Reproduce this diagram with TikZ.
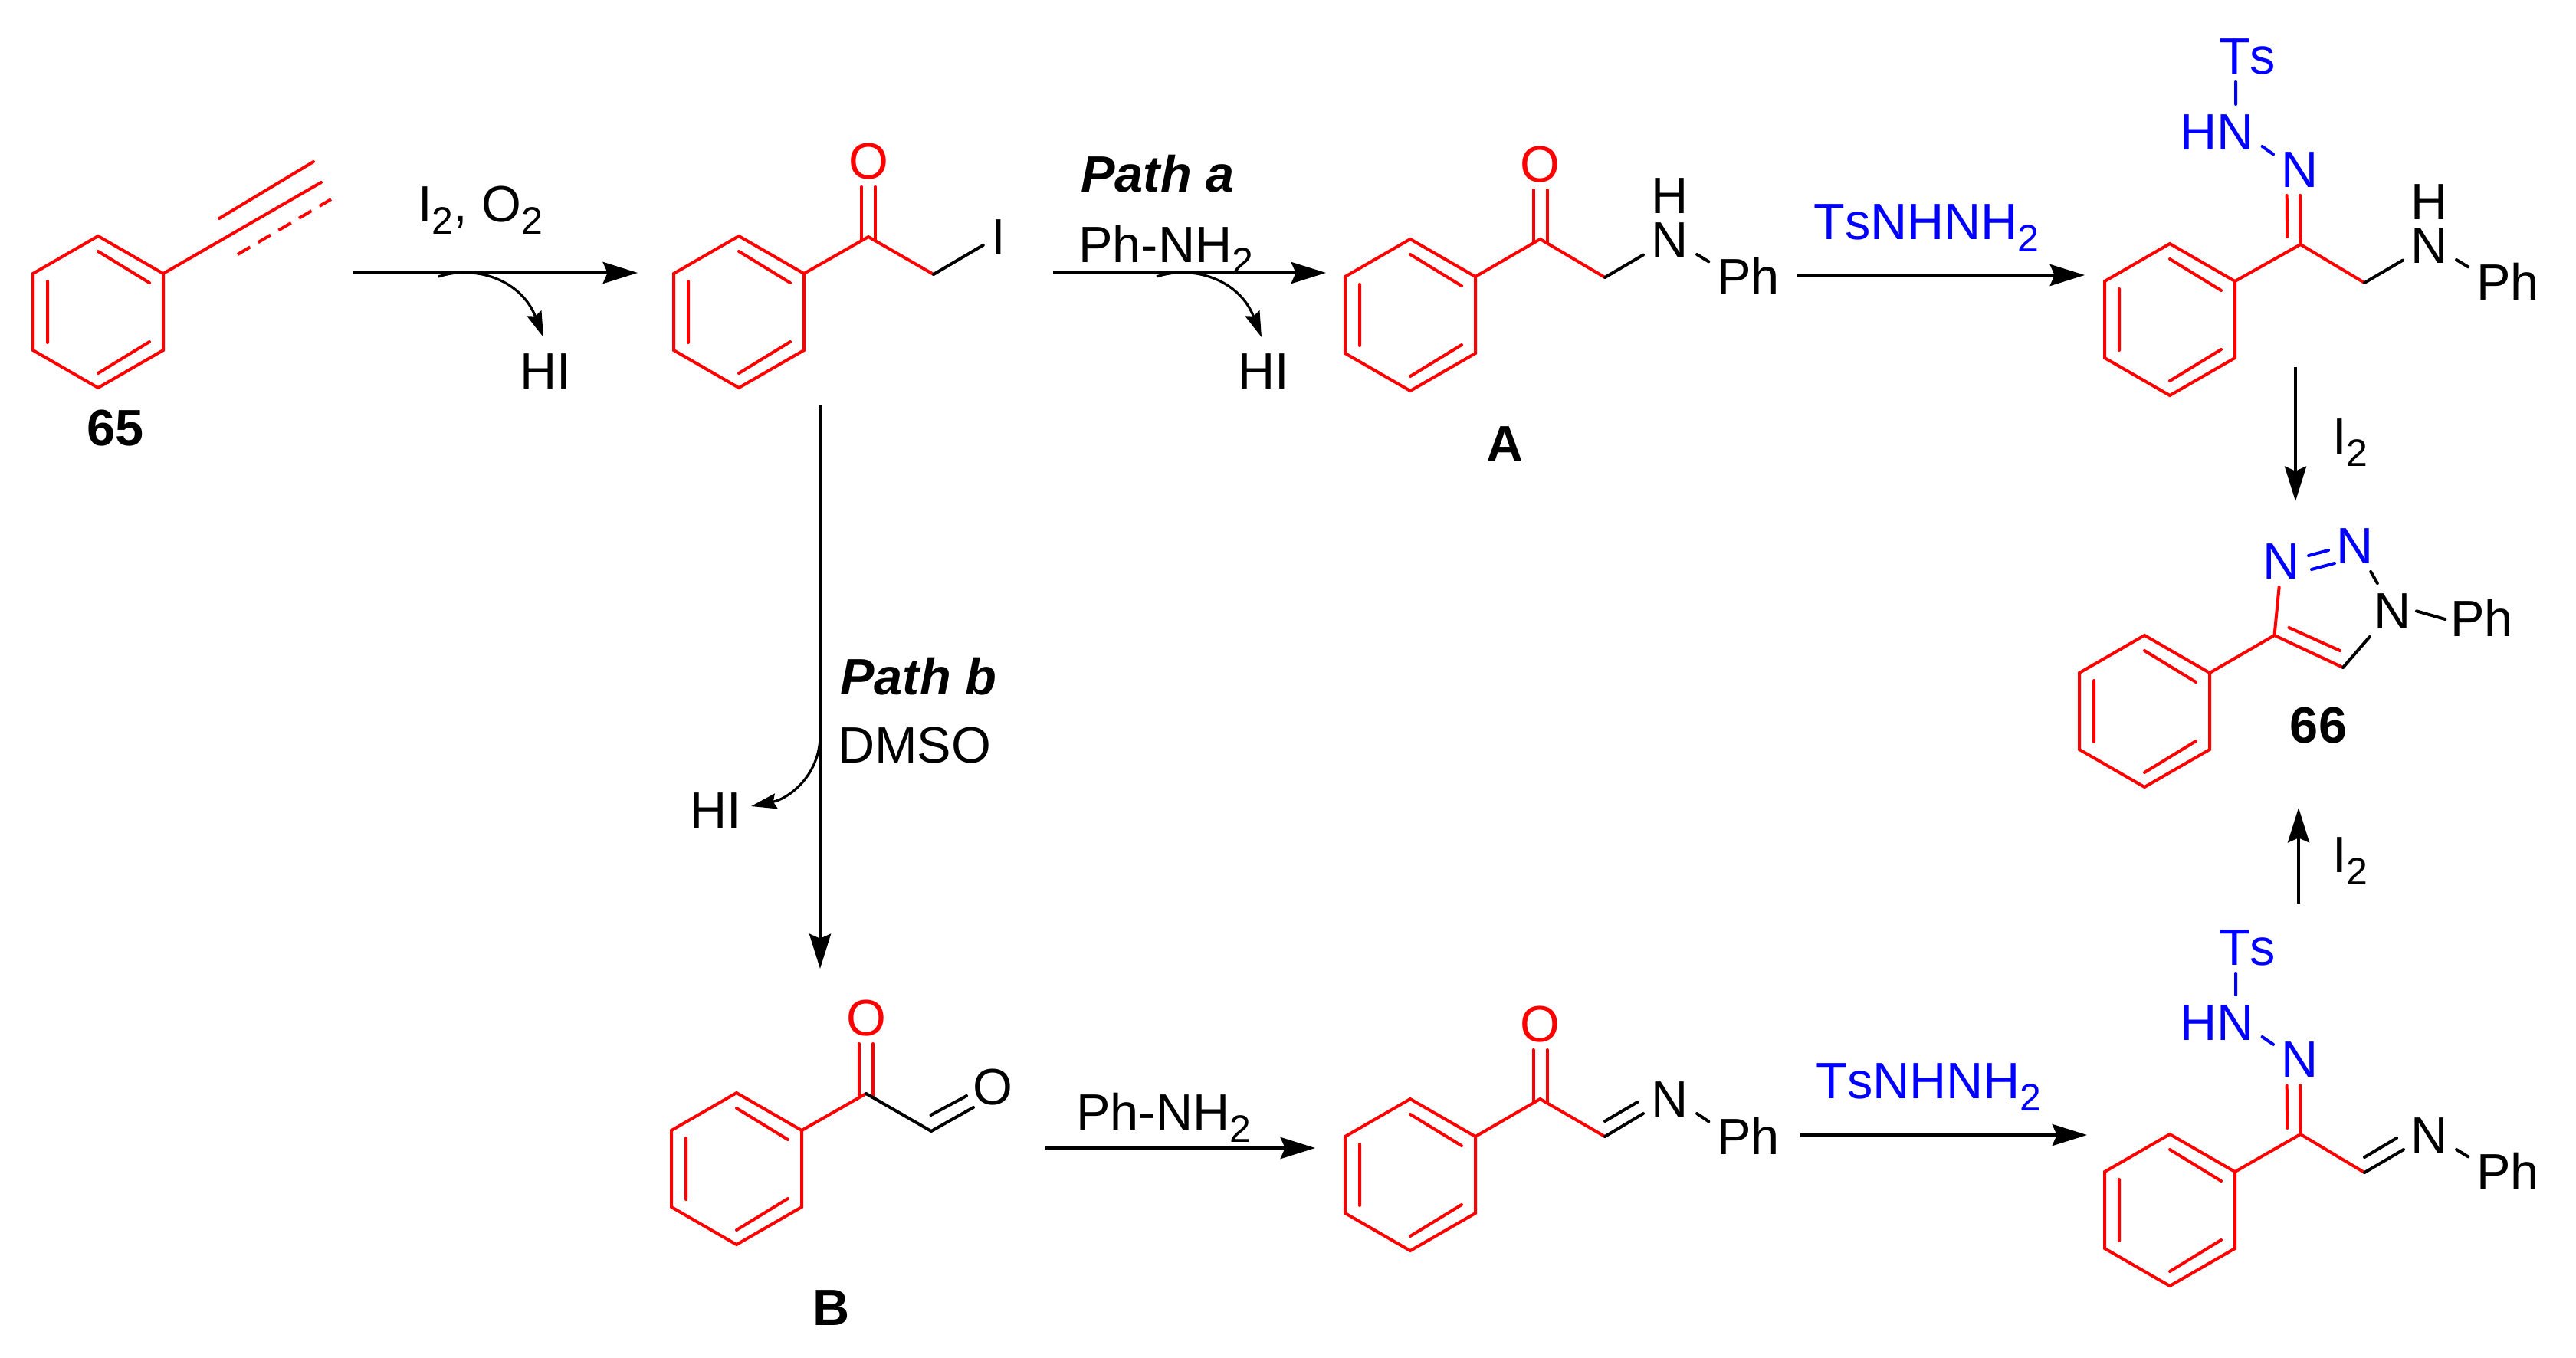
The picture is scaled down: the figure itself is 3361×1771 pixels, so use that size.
\documentclass[tikz,border=0pt]{standalone}
\usepackage{fontspec}
\setmainfont{Liberation Sans}[Kerning=Off]
\usetikzlibrary{arrows.meta}
\newcommand{\chemfont}{\fontsize{50}{60}\selectfont}
\newcommand{\subtwo}{\raisebox{-12pt}{\fontsize{37.5}{40}\selectfont 2}}
\newcommand{\ketbond}[2]{\foreach \s in {-6.75pt,6.75pt} {\draw[redbond] ([xshift=\s]#1.south) -- ([xshift=\s,yshift=3.75pt]#2);}}
\newcommand{\gapbond}[3]{\draw[#1] ([yshift=15pt]#2.east) -- ([yshift=-14pt]#3.west);}
\tikzset{
	anybond/.style={line width=3pt,line cap=round},
	redbond/.style={anybond,red},
	bluebond/.style={anybond,blue},
	blackbond/.style={anybond,black},
	atom/.style={font=\chemfont,inner sep=8pt,text height=36pt,text depth=0pt,anchor=base},
	lbl/.style={font=\chemfont,inner sep=0pt,anchor=base west},
	tag/.style={font=\chemfont\bfseries,inner sep=0pt,anchor=base},
	rxn/.style={line width=3.2pt,-{Stealth[length=34pt,width=21pt,inset=4.5pt]}},
	loss/.style={line width=2.4pt,-{Stealth[length=25pt,width=15pt,inset=3pt]}},
	benzring/.pic={
		\draw[redbond] (-85,-50) -- (0,-99) -- (85,-50) -- (85,50) -- (0,99) -- (-85,50) -- cycle;
		\draw[redbond] (0,79) -- (67,38) (-66,-40) -- (-66,40) (0,-80) -- (67,-39);
		\coordinate (-ur) at (85,50);
	}
}
\begin{document}
\begin{tikzpicture}[x=0.75pt,y=0.75pt,yscale=-1,xscale=1]
	\useasboundingbox (0,0) rectangle (3361,1771);

	\pic (ringa) at (128,407) {benzring};
	\coordinate (alka) at (419,238);
	\coordinate (alkb) at (286,285);
	\coordinate (alkc) at (409,211);
	\coordinate (alkd) at (310,332);
	\coordinate (alke) at (432,260);
	\draw[redbond] (ringa-ur) -- (alka);
	\draw[redbond] (alkb) -- (alkc);
	\draw[red,line width=3pt,dash pattern=on 14.25pt off 9pt] (alkd) -- (alke);
	\node (num65) [tag] at (151,581) {65};

	\coordinate (arra) at (460,356);
	\coordinate (arrb) at (832,356);
	\draw[rxn] (arra) -- (arrb);
	\coordinate (lossa) at (572,361);
	\coordinate (lossb) at (709,440);
	\draw[loss] (lossa) .. controls (620,345) and (680,365) .. (lossb);
	\node (reagi) [lbl] at (545,289) {I\subtwo, O\subtwo};
	\node (hia) [lbl,anchor=base] at (712,507) {HI};

	\pic (ringb) at (964,407) {benzring};
	\coordinate (cb) at (1133,309);
	\coordinate (mb) at (1218,358);
	\node (Ob) [atom,red] at (1133,233) {O};
	\node (Ib) [atom] at (1303,332) {I};
	\draw[redbond] (ringb-ur) -- (cb) -- (mb);
	\ketbond{Ob}{cb}
	\draw[blackbond] (mb) -- (Ib);

	\coordinate (arrc) at (1374,356);
	\coordinate (arrd) at (1730,356);
	\draw[rxn] (arrc) -- (arrd);
	\coordinate (lossc) at (1509,361);
	\coordinate (lossd) at (1646,440);
	\draw[loss] (lossc) .. controls (1557,345) and (1617,365) .. (lossd);
	\node (patha) [lbl] at (1410,250) {\bfseries\itshape Path a};
	\node (reagp) [lbl] at (1407,342) {Ph-NH\subtwo};
	\node (hib) [lbl,anchor=base] at (1649,507) {HI};

	\pic (ringc) at (1840,411) {benzring};
	\coordinate (cc) at (2009.5,312);
	\coordinate (mc) at (2094,362);
	\node (Oc) [atom,red] at (2009.5,237) {O};
	\node (Nc) [atom] at (2179,336) {N};
	\node (Hc) [atom] at (2179,278) {H};
	\node (Pc) [atom] at (2281,384) {Ph};
	\draw[redbond] (ringc-ur) -- (cc) -- (mc);
	\ketbond{Oc}{cc}
	\draw[blackbond] (mc) -- (Nc);
	\gapbond{blackbond}{Nc}{Pc}
	\node (tagA) [tag] at (1964,602) {A};

	\coordinate (arre) at (2344,359);
	\coordinate (arrf) at (2720,359);
	\draw[rxn] (arre) -- (arrf);
	\node (reagt) [lbl,text=blue] at (2366,312) {TsNHNH\subtwo};

	\pic (ringd) at (2831,417) {benzring};
	\coordinate (cd) at (3001.5,319);
	\coordinate (md) at (3085,369);
	\node (Nd) [atom,blue] at (3001,244) {N};
	\node (HNd) [atom,blue] at (2892.5,195) {HN};
	\node (Tsd) [atom,blue] at (2932,96) {Ts};
	\node (Ne) [atom] at (3170,343) {N};
	\node (He) [atom] at (3170,286) {H};
	\node (Pe) [atom] at (3272,391) {Ph};
	\draw[redbond] (ringd-ur) -- (cd) -- (md);
	\draw[redbond] (Nd) -- (cd);
	\draw[redbond] ([xshift=-13pt]Nd.south) -- ([xshift=-13pt,yshift=-7.5pt]cd);
	\draw[bluebond] ([xshift=-11.25pt]Tsd.south) -- ([xshift=18.4pt]HNd.north);
	\gapbond{bluebond}{HNd}{Nd}
	\draw[blackbond] (md) -- (Ne);
	\gapbond{blackbond}{Ne}{Pe}

	\coordinate (arrg) at (2995,479);
	\coordinate (arrh) at (2995,654);
	\draw[rxn] (arrg) -- (arrh);
	\node (reagj) [lbl] at (3043,592) {I\subtwo};

	\pic (ringe) at (2798,928) {benzring};
	\coordinate (ct) at (2967.5,829);
	\coordinate (dt) at (3057,871);
	\coordinate (ea) at (2986.5,819);
	\coordinate (eb) at (3053,849);
	\node (Nt) [atom,blue] at (2977,755) {N};
	\node (Nu) [atom,blue] at (3073,735) {N};
	\node (Nv) [atom] at (3122,820) {N};
	\node (Pv) [atom] at (3238,830) {Ph};
	\draw[redbond] (ringe-ur) -- (ct) -- (dt);
	\draw[redbond] (ct) -- (Nt);
	\draw[redbond] (ea) -- (eb);
	\draw[bluebond] ([yshift=-4.5pt]Nt.east) -- ([yshift=5.25pt]Nu.west);
	\draw[bluebond] ([xshift=3pt,yshift=9pt]Nt.east) -- ([xshift=6pt,yshift=18pt]Nu.west);
	\draw[blackbond] (Nu) -- (Nv);
	\draw[blackbond] (dt) -- (Nv);
	\draw[blackbond] ([xshift=-3pt,yshift=1pt]Nv.east) -- ([xshift=3pt,yshift=1.5pt]Pv.west);
	\node (num66) [tag] at (3025,969) {66};

	\coordinate (arri) at (2999,1179);
	\coordinate (arrj) at (2999,1054);
	\draw[rxn] (arri) -- (arrj);
	\node (reagk) [lbl] at (3043,1138) {I\subtwo};

	\coordinate (arrk) at (1070,529);
	\coordinate (arrl) at (1070,1264);
	\draw[rxn] (arrk) -- (arrl);
	\coordinate (losse) at (1070,955);
	\coordinate (lossf) at (980,1052);
	\draw[loss] (losse) .. controls (1072,1010) and (1030,1042) .. (lossf);
	\node (pathb) [lbl] at (1096,906) {\bfseries\itshape Path b};
	\node (dmso) [lbl] at (1093,995) {DMSO};
	\node (hic) [lbl,anchor=base] at (933.5,1080) {HI};

	\pic (ringf) at (961,1525) {benzring};
	\coordinate (cf) at (1130,1427);
	\coordinate (mf) at (1215,1476);
	\coordinate (fa) at (1270,1445);
	\coordinate (fb) at (1214.5,1455);
	\coordinate (fc) at (1261,1430);
	\node (Of) [atom,red] at (1130,1351) {O};
	\node (Og) [atom] at (1295,1441) {O};
	\draw[redbond] (ringf-ur) -- (cf);
	\ketbond{Of}{cf}
	\draw[blackbond] (cf) -- (mf) -- (fa);
	\draw[blackbond] (fb) -- (fc);
	\node (tagB) [tag] at (1085,1729) {B};

	\coordinate (arrm) at (1363,1498);
	\coordinate (arrn) at (1716,1498);
	\draw[rxn] (arrm) -- (arrn);
	\node (reagq) [lbl] at (1404,1474) {Ph-NH\subtwo};

	\pic (ringg) at (1840,1533) {benzring};
	\coordinate (cg) at (2009.5,1434);
	\coordinate (mg) at (2094,1483);
	\coordinate (ga) at (2144,1453);
	\coordinate (gb) at (2094,1463);
	\coordinate (gc) at (2136.5,1438);
	\node (Og2) [atom,red] at (2009.5,1359) {O};
	\node (Ng) [atom] at (2179,1457) {N};
	\node (Pg) [atom] at (2281,1506) {Ph};
	\draw[redbond] (ringg-ur) -- (cg) -- (mg);
	\ketbond{Og2}{cg}
	\draw[blackbond] (mg) -- (ga);
	\draw[blackbond] (gb) -- (gc);
	\gapbond{blackbond}{Ng}{Pg}

	\coordinate (arro) at (2348,1481);
	\coordinate (arrp) at (2723,1481);
	\draw[rxn] (arro) -- (arrp);
	\node (reagu) [lbl,text=blue] at (2369,1433) {TsNHNH\subtwo};

	\pic (ringh) at (2831,1579) {benzring};
	\coordinate (ch) at (3001.5,1480);
	\coordinate (mh) at (3085,1530);
	\coordinate (ha) at (3136,1500);
	\coordinate (hb) at (3085,1510);
	\coordinate (hc) at (3127,1485);
	\node (Nh) [atom,blue] at (3001,1405.5) {N};
	\node (HNh) [atom,blue] at (2892.5,1357) {HN};
	\node (Tsh) [atom,blue] at (2932,1259) {Ts};
	\node (Ni) [atom] at (3170,1504) {N};
	\node (Pi) [atom] at (3272,1552) {Ph};
	\draw[redbond] (ringh-ur) -- (ch) -- (mh);
	\draw[redbond] (Nh) -- (ch);
	\draw[redbond] ([xshift=-13pt]Nh.south) -- ([xshift=-13pt,yshift=-6pt]ch);
	\draw[bluebond] ([xshift=-11.25pt]Tsh.south) -- ([xshift=18.4pt]HNh.north);
	\gapbond{bluebond}{HNh}{Nh}
	\draw[blackbond] (mh) -- (ha);
	\draw[blackbond] (hb) -- (hc);
	\gapbond{blackbond}{Ni}{Pi}
\end{tikzpicture}
\end{document}
